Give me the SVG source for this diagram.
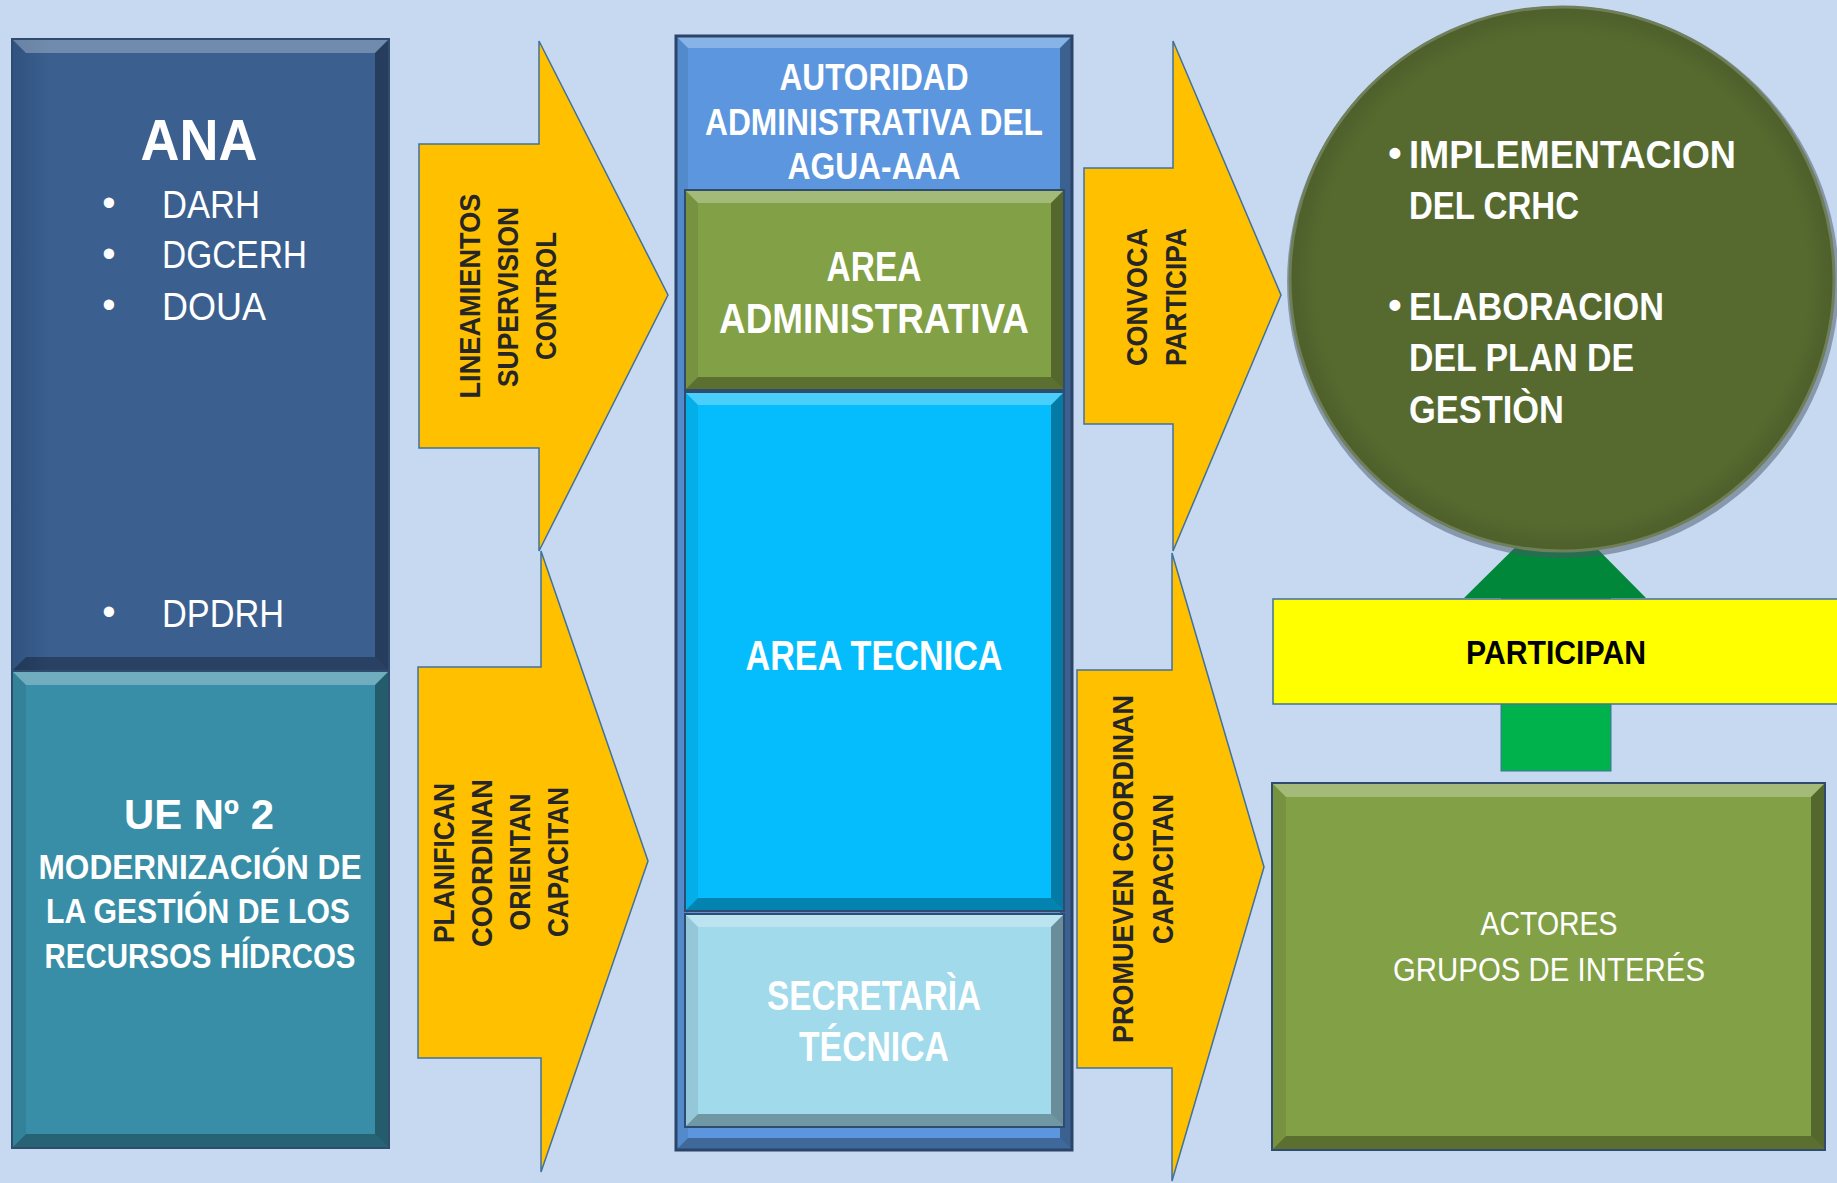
<svg xmlns="http://www.w3.org/2000/svg" width="1837" height="1183" viewBox="0 0 1837 1183">
<defs>
<style>
.t{font-family:"Liberation Sans","Open Sans",Arial,sans-serif;fill:#fff}
.b{font-weight:bold}
.dk{font-family:"Liberation Sans","Open Sans",Arial,sans-serif;fill:#262626;font-weight:bold;font-size:29px}
.arr{fill:#FFC000;stroke:#41719C;stroke-width:1.5}
.bt{fill:#fff;fill-opacity:.28}
.bb{fill:#000;fill-opacity:.3}
.bl{fill:#000;fill-opacity:.08}
.br{fill:#000;fill-opacity:.35}
.edge{fill:none;stroke:#2F4B6E;stroke-width:2}
</style>
<linearGradient id="anaG" x1="0" y1="0" x2="1" y2="0">
<stop offset="0" stop-color="#2F527F"/><stop offset=".1" stop-color="#3B5F8F"/><stop offset="1" stop-color="#3B5F8F"/>
</linearGradient>
<radialGradient id="circG" cx=".5" cy=".5" r=".5">
<stop offset=".9" stop-color="#566A2F"/><stop offset="1" stop-color="#4E5F2B"/>
</radialGradient>
</defs>
<rect width="1837" height="1183" fill="#C6D9F0"/>

<g id="connectors">
<polygon class="arr" points="419,144 539,144 539,41 668,295 539,551 539,448 419,448"/>
<polygon class="arr" points="418,667 541,667 541,551 648,861 541,1172 541,1058 418,1058"/>
<polygon class="arr" points="1084,168 1173,168 1173,41 1281,295 1173,551 1173,424 1084,424"/>
<polygon class="arr" points="1077,670 1172,670 1172,553 1264,867 1172,1181 1172,1068 1077,1068"/>
<g id="green-arrow">
<polygon points="1556,507 1646,598 1611,598 1611,771 1501,771 1501,598 1464,598" fill="#00873A"/>
<rect x="1501" y="640" width="110" height="131" fill="#00B24C" stroke="#41719C" stroke-width="1"/>
</g>
<text class="dk" transform="translate(480,296) rotate(-90)" text-anchor="middle" textLength="205" lengthAdjust="spacingAndGlyphs">LINEAMIENTOS</text>
<text class="dk" transform="translate(518,297) rotate(-90)" text-anchor="middle" textLength="180" lengthAdjust="spacingAndGlyphs">SUPERVISION</text>
<text class="dk" transform="translate(556,296) rotate(-90)" text-anchor="middle" textLength="128" lengthAdjust="spacingAndGlyphs">CONTROL</text>
<text class="dk" transform="translate(454,863) rotate(-90)" text-anchor="middle" textLength="160" lengthAdjust="spacingAndGlyphs">PLANIFICAN</text>
<text class="dk" transform="translate(492,863) rotate(-90)" text-anchor="middle" textLength="168" lengthAdjust="spacingAndGlyphs">COORDINAN</text>
<text class="dk" transform="translate(530,862) rotate(-90)" text-anchor="middle" textLength="137" lengthAdjust="spacingAndGlyphs">ORIENTAN</text>
<text class="dk" transform="translate(568,862) rotate(-90)" text-anchor="middle" textLength="150" lengthAdjust="spacingAndGlyphs">CAPACITAN</text>
<text class="dk" transform="translate(1147,297) rotate(-90)" text-anchor="middle" textLength="138" lengthAdjust="spacingAndGlyphs">CONVOCA</text>
<text class="dk" transform="translate(1186,297) rotate(-90)" text-anchor="middle" textLength="138" lengthAdjust="spacingAndGlyphs">PARTICIPA</text>
<text class="dk" transform="translate(1133,869) rotate(-90)" text-anchor="middle" textLength="348" lengthAdjust="spacingAndGlyphs">PROMUEVEN COORDINAN</text>
<text class="dk" transform="translate(1173,869) rotate(-90)" text-anchor="middle" textLength="150" lengthAdjust="spacingAndGlyphs">CAPACITAN</text>
</g>

<g id="ana">
<rect x="12" y="39" width="377" height="632" fill="url(#anaG)"/>
<polygon class="bt" points="12,39 389,39 375,53 26,53"/>
<polygon class="br" points="389,39 375,53 375,657 389,671"/>
<polygon class="bb" points="12,671 389,671 375,657 26,657"/>
<rect class="edge" x="12" y="39" width="377" height="632"/>
<text class="t b" x="199" y="160" font-size="58" text-anchor="middle" textLength="117" lengthAdjust="spacingAndGlyphs">ANA</text>
<g font-size="38">
<text class="t" x="109" y="216" text-anchor="middle">•</text>
<text class="t" x="162" y="218" textLength="98" lengthAdjust="spacingAndGlyphs">DARH</text>
<text class="t" x="109" y="267" text-anchor="middle">•</text>
<text class="t" x="162" y="268" textLength="145" lengthAdjust="spacingAndGlyphs">DGCERH</text>
<text class="t" x="109" y="318" text-anchor="middle">•</text>
<text class="t" x="162" y="320" textLength="104" lengthAdjust="spacingAndGlyphs">DOUA</text>
<text class="t" x="109" y="625" text-anchor="middle">•</text>
<text class="t" x="162" y="627" textLength="122" lengthAdjust="spacingAndGlyphs">DPDRH</text>
</g>
</g>

<g id="ue">
<rect x="12" y="671" width="377" height="477" fill="#388EA7"/>
<polygon class="bt" points="12,671 389,671 375,685 26,685"/>
<polygon class="bl" points="12,671 26,685 26,1134 12,1148"/>
<polygon class="br" points="389,671 375,685 375,1134 389,1148"/>
<polygon class="bb" points="12,1148 389,1148 375,1134 26,1134"/>
<rect class="edge" x="12" y="671" width="377" height="477"/>
<text class="t b" x="199" y="829" font-size="42" text-anchor="middle" textLength="150" lengthAdjust="spacingAndGlyphs">UE Nº 2</text>
<text class="t b" x="200" y="879" font-size="35" text-anchor="middle" textLength="323" lengthAdjust="spacingAndGlyphs">MODERNIZACIÓN DE</text>
<text class="t b" x="198" y="923" font-size="35" text-anchor="middle" textLength="304" lengthAdjust="spacingAndGlyphs">LA GESTIÓN DE LOS</text>
<text class="t b" x="200" y="968" font-size="35" text-anchor="middle" textLength="311" lengthAdjust="spacingAndGlyphs">RECURSOS HÍDRCOS</text>
</g>

<g id="aaa">
<rect x="676" y="36" width="396" height="1114" fill="#5B96DE"/>
<polygon class="bt" points="676,36 1072,36 1060,48 688,48"/>
<polygon class="bl" points="676,36 688,48 688,1138 676,1150"/>
<polygon class="br" points="1072,36 1060,48 1060,1138 1072,1150"/>
<polygon class="bb" points="676,1150 1072,1150 1060,1138 688,1138"/>
<rect x="676" y="36" width="396" height="1114" fill="none" stroke="#2B4468" stroke-width="3"/>
<text class="t b" x="874" y="90" font-size="36" text-anchor="middle" textLength="189" lengthAdjust="spacingAndGlyphs">AUTORIDAD</text>
<text class="t b" x="874" y="135" font-size="36" text-anchor="middle" textLength="338" lengthAdjust="spacingAndGlyphs">ADMINISTRATIVA DEL</text>
<text class="t b" x="874" y="179" font-size="36" text-anchor="middle" textLength="173" lengthAdjust="spacingAndGlyphs">AGUA-AAA</text>
</g>

<g id="area-administrativa">
<rect x="685" y="190" width="379" height="200" fill="#82A045"/>
<polygon class="bt" points="685,190 1064,190 1051,203 698,203"/>
<polygon class="bl" points="685,190 698,203 698,377 685,390"/>
<polygon class="br" points="1064,190 1051,203 1051,377 1064,390"/>
<polygon class="bb" points="685,390 1064,390 1051,377 698,377"/>
<rect class="edge" x="685" y="190" width="379" height="200"/>
<text class="t b" x="874" y="281" font-size="42" text-anchor="middle" textLength="95" lengthAdjust="spacingAndGlyphs">AREA</text>
<text class="t b" x="874" y="333" font-size="42" text-anchor="middle" textLength="310" lengthAdjust="spacingAndGlyphs">ADMINISTRATIVA</text>
</g>

<g id="area-tecnica">
<rect x="685" y="392" width="379" height="519" fill="#05BDFD"/>
<polygon class="bt" points="685,392 1064,392 1051,405 698,405"/>
<polygon class="bl" points="685,392 698,405 698,898 685,911"/>
<polygon class="br" points="1064,392 1051,405 1051,898 1064,911"/>
<polygon class="bb" points="685,911 1064,911 1051,898 698,898"/>
<rect class="edge" x="685" y="392" width="379" height="519"/>
<text class="t b" x="874" y="670" font-size="42" text-anchor="middle" textLength="257" lengthAdjust="spacingAndGlyphs">AREA TECNICA</text>
</g>

<g id="secretaria-tecnica">
<rect x="685" y="914" width="379" height="213" fill="#A1DAEB"/>
<polygon class="bt" points="685,914 1064,914 1051,927 698,927"/>
<polygon class="bl" points="685,914 698,927 698,1114 685,1127"/>
<polygon class="br" points="1064,914 1051,927 1051,1114 1064,1127"/>
<polygon class="bb" points="685,1127 1064,1127 1051,1114 698,1114"/>
<rect class="edge" x="685" y="914" width="379" height="213"/>
<text class="t b" x="874" y="1010" font-size="42" text-anchor="middle" textLength="214" lengthAdjust="spacingAndGlyphs">SECRETARÌA</text>
<text class="t b" x="874" y="1061" font-size="42" text-anchor="middle" textLength="150" lengthAdjust="spacingAndGlyphs">TÉCNICA</text>
</g>

<g id="objetivos">
<circle cx="1563" cy="282" r="276" fill="#4A5868" fill-opacity=".5"/>
<circle cx="1562" cy="279" r="272" fill="url(#circG)" stroke="#6E7F5A" stroke-width="3"/>
<g font-size="38" font-weight="bold">
<text class="t" x="1395" y="166" text-anchor="middle">•</text>
<text class="t" x="1409" y="168" textLength="327" lengthAdjust="spacingAndGlyphs">IMPLEMENTACION</text>
<text class="t" x="1409" y="219" textLength="170" lengthAdjust="spacingAndGlyphs">DEL CRHC</text>
<text class="t" x="1395" y="318" text-anchor="middle">•</text>
<text class="t" x="1409" y="320" textLength="255" lengthAdjust="spacingAndGlyphs">ELABORACION</text>
<text class="t" x="1409" y="371" textLength="225" lengthAdjust="spacingAndGlyphs">DEL PLAN DE</text>
<text class="t" x="1409" y="423" textLength="155" lengthAdjust="spacingAndGlyphs">GESTIÒN</text>
</g>
</g>

<g id="participan">
<rect x="1273" y="599" width="600" height="105" fill="#FFFF00" stroke="#41719C" stroke-width="1.5"/>
<text class="t b" x="1556" y="664" font-size="34" text-anchor="middle" style="fill:#000" textLength="180" lengthAdjust="spacingAndGlyphs">PARTICIPAN</text>
</g>

<g id="actores">
<rect x="1272" y="783" width="553" height="367" fill="#82A045"/>
<polygon class="bt" points="1272,783 1825,783 1811,797 1286,797"/>
<polygon class="bl" points="1272,783 1286,797 1286,1136 1272,1150"/>
<polygon class="br" points="1825,783 1811,797 1811,1136 1825,1150"/>
<polygon class="bb" points="1272,1150 1825,1150 1811,1136 1286,1136"/>
<rect class="edge" x="1272" y="783" width="553" height="367"/>
<text class="t" x="1549" y="935" font-size="34" text-anchor="middle" textLength="137" lengthAdjust="spacingAndGlyphs">ACTORES</text>
<text class="t" x="1549" y="981" font-size="34" text-anchor="middle" textLength="312" lengthAdjust="spacingAndGlyphs">GRUPOS DE INTERÉS</text>
</g>
</svg>
